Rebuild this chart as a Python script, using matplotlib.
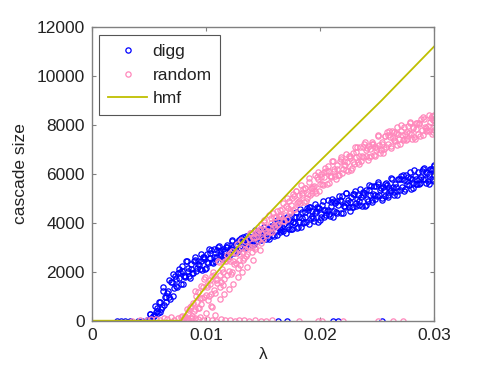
import numpy as np
import matplotlib
matplotlib.use("Agg")
import matplotlib.pyplot as plt

plt.rcParams['font.family'] = ['Liberation Sans', 'DejaVu Sans']

# digg: dense band
digg_x = [
    0.0050, 0.00512, 0.00526, 0.0054, 0.00552, 0.00566, 0.0058, 0.00592, 0.00606,
    0.0062, 0.00632, 0.00646, 0.0066, 0.00672, 0.00686, 0.0070, 0.00712, 0.00726,
    0.0074, 0.00752, 0.00766, 0.0078, 0.00792, 0.00806, 0.0082, 0.00832, 0.00846,
    0.0086, 0.00872, 0.00886, 0.0090, 0.00912, 0.00926, 0.0094, 0.00952, 0.00966,
    0.0098, 0.00992, 0.01006, 0.0102, 0.01032, 0.01046, 0.0106, 0.01072, 0.01086,
    0.0110, 0.01112, 0.01126, 0.0114, 0.01152, 0.01166, 0.0118, 0.01192, 0.01206,
    0.0122, 0.01232, 0.01246, 0.0126, 0.01272, 0.01286, 0.0130, 0.01312, 0.01326,
    0.0134, 0.01352, 0.01366, 0.0138, 0.01392, 0.01406, 0.0142, 0.01432, 0.01446,
    0.0146, 0.01472, 0.01486, 0.0150, 0.01512, 0.01526, 0.0154, 0.01552, 0.01566,
    0.0158, 0.01592, 0.01606, 0.0162, 0.01632, 0.01646, 0.0166, 0.01672, 0.01686,
    0.0170, 0.01712, 0.01726, 0.0174, 0.01752, 0.01766, 0.0178, 0.01792, 0.01806,
    0.0182, 0.01832, 0.01846, 0.0186, 0.01872, 0.01886, 0.0190, 0.01912, 0.01926,
    0.0194, 0.01952, 0.01966, 0.0198, 0.01992, 0.02006, 0.0202, 0.02032, 0.02046,
    0.0206, 0.02072, 0.02086, 0.0210, 0.02112, 0.02126, 0.0214, 0.02152, 0.02166,
    0.0218, 0.02192, 0.02206, 0.0222, 0.02232, 0.02246, 0.0226, 0.02272, 0.02286,
    0.0230, 0.02312, 0.02326, 0.0234, 0.02352, 0.02366, 0.0238, 0.02392, 0.02406,
    0.0242, 0.02432, 0.02446, 0.0246, 0.02472, 0.02486, 0.0250, 0.02512, 0.02526,
    0.0254, 0.02552, 0.02566, 0.0258, 0.02592, 0.02606, 0.0262, 0.02632, 0.02646,
    0.0266, 0.02672, 0.02686, 0.0270, 0.02712, 0.02726, 0.0274, 0.02752, 0.02766,
    0.0278, 0.02792, 0.02806, 0.0282, 0.02832, 0.02846, 0.0286, 0.02872, 0.02886,
    0.0290, 0.02912, 0.02926, 0.0294, 0.02952, 0.02966, 0.0298, 0.0299, 0.0300,
    0.02995, 0.0300,
]
digg_y = [
    20, 260, 130, 240, 590, 410, 320, 770, 460,
    1200, 660, 970, 1125, 1675, 875, 1575, 1025, 1825,
    1410, 1940, 2130, 1500, 2220, 1810, 1840, 2440, 2140,
    1760, 2310, 1930, 2500, 2020, 2300, 2280, 2720, 2080,
    2530, 2110, 2720, 2340, 2750, 2890, 2350, 2910, 2600,
    2590, 3060, 2830, 2520, 2950, 2650, 3090, 2700, 2930,
    2920, 3260, 2770, 3130, 2800, 3280, 2990, 3310, 3420,
    2990, 3460, 3200, 3190, 3600, 3390, 3120, 3510, 3240,
    3650, 3280, 3500, 3480, 3830, 3320, 3690, 3330, 3860,
    3520, 3890, 4030, 3490, 4050, 3740, 3710, 4210, 3960,
    3590, 4070, 3740, 4220, 3760, 4030, 4000, 4430, 3810,
    4250, 3810, 4450, 4020, 4460, 4620, 3970, 4630, 4260,
    4200, 4770, 4480, 4050, 4600, 4220, 4740, 4240, 4530,
    4470, 4930, 4260, 4690, 4230, 4900, 4450, 4910, 5080,
    4400, 5080, 4700, 4630, 5220, 4930, 4490, 5040, 4660,
    5180, 4680, 4970, 4910, 5370, 4700, 5130, 4670, 5340,
    4880, 5340, 5510, 4840, 5520, 5140, 5080, 5650, 5360,
    4930, 5460, 5090, 5610, 5130, 5410, 5350, 5790, 5150,
    5580, 5140, 5780, 5340, 5780, 5940, 5310, 5950, 5590,
    5530, 6080, 5810, 5410, 5920, 5570, 6060, 5590, 5860,
    5800, 6230, 5610, 6020, 5590, 6210, 5790, 6210, 6360,
    5730, 6340,
]
digg2_x = [
    0.00506, 0.00519, 0.00533, 0.00546, 0.00559, 0.00573, 0.00586, 0.00599, 0.00613,
    0.00626, 0.00639, 0.00653, 0.00666, 0.00679, 0.00693, 0.00706, 0.00719, 0.00733,
    0.00746, 0.00759, 0.00773, 0.00786, 0.00799, 0.00813, 0.00826, 0.00839, 0.00853,
    0.00866, 0.00879, 0.00893, 0.00906, 0.00919, 0.00933, 0.00946, 0.00959, 0.00973,
    0.00986, 0.00999, 0.01013, 0.01026, 0.01039, 0.01053, 0.01066, 0.01079, 0.01093,
    0.01106, 0.01119, 0.01133, 0.01146, 0.01159, 0.01173, 0.01186, 0.01199, 0.01213,
    0.01226, 0.01239, 0.01253, 0.01266, 0.01279, 0.01293, 0.01306, 0.01319, 0.01333,
    0.01346, 0.01359, 0.01373, 0.01386, 0.01399, 0.01413, 0.01426, 0.01439, 0.01453,
    0.01466, 0.01479, 0.01493, 0.01506, 0.01519, 0.01533, 0.01546, 0.01559, 0.01573,
    0.01586, 0.01599, 0.01613, 0.01626, 0.01639, 0.01653, 0.01666, 0.01679, 0.01693,
    0.01706, 0.01719, 0.01733, 0.01746, 0.01759, 0.01773, 0.01786, 0.01799, 0.01813,
    0.01826, 0.01839, 0.01853, 0.01866, 0.01879, 0.01893, 0.01906, 0.01919, 0.01933,
    0.01946, 0.01959, 0.01973, 0.01986, 0.01999, 0.02013, 0.02026, 0.02039, 0.02053,
    0.02066, 0.02079, 0.02093, 0.02106, 0.02119, 0.02133, 0.02146, 0.02159, 0.02173,
    0.02186, 0.02199, 0.02213, 0.02226, 0.02239, 0.02253, 0.02266, 0.02279, 0.02293,
    0.02306, 0.02319, 0.02333, 0.02346, 0.02359, 0.02373, 0.02386, 0.02399, 0.02413,
    0.02426, 0.02439, 0.02453, 0.02466, 0.02479, 0.02493, 0.02506, 0.02519, 0.02533,
    0.02546, 0.02559, 0.02573, 0.02586, 0.02599, 0.02613, 0.02626, 0.02639, 0.02653,
    0.02666, 0.02679, 0.02693, 0.02706, 0.02719, 0.02733, 0.02746, 0.02759, 0.02773,
    0.02786, 0.02799, 0.02813, 0.02826, 0.02839, 0.02853, 0.02866, 0.02879, 0.02893,
    0.02906, 0.02919, 0.02933, 0.02946, 0.02959, 0.02973, 0.02986, 0.02998, 0.0300,
]
digg2_y = [
    270, 105, 210, 175, 375, 500, 770, 370, 580,
    1380, 950, 750, 1200, 975, 1600, 1900, 1350, 1700,
    1360, 1750, 1990, 2040, 1520, 1790, 2440, 2030, 1840,
    2120, 1930, 2450, 2600, 2160, 2440, 2100, 2420, 2620,
    2600, 2170, 2390, 2910, 2560, 2390, 2620, 2460, 2900,
    3010, 2640, 2880, 2600, 2860, 3030, 3020, 2650, 2850,
    3290, 3000, 2860, 3050, 2920, 3290, 3390, 3070, 3280,
    3040, 3270, 3410, 3420, 3090, 3260, 3690, 3400, 3270,
    3450, 3310, 3700, 3820, 3460, 3690, 3410, 3670, 3840,
    3840, 3450, 3650, 4120, 3790, 3630, 3830, 3670, 4120,
    4240, 3830, 4090, 3740, 4050, 4240, 4240, 3790, 4020,
    4570, 4190, 4010, 4220, 4040, 4540, 4650, 4200, 4480,
    4090, 4420, 4630, 4600, 4110, 4370, 4910, 4510, 4320,
    4530, 4340, 4860, 4970, 4500, 4800, 4410, 4740, 4950,
    4910, 4420, 4680, 5220, 4820, 4630, 4850, 4660, 5180,
    5290, 4820, 5120, 4720, 5050, 5260, 5220, 4730, 4990,
    5530, 5130, 4940, 5160, 4970, 5490, 5590, 5140, 5420,
    5030, 5360, 5570, 5530, 5070, 5310, 5830, 5450, 5270,
    5480, 5300, 5800, 5900, 5460, 5740, 5370, 5690, 5890,
    5850, 5400, 5630, 6150, 5780, 5600, 5800, 5630, 6110,
    6210, 5780, 6060, 5690, 6000, 6190, 6150, 5720, 5940,
]
# digg points sitting on the axis
digg0_x = [0.0022, 0.0025, 0.0029, 0.0033, 0.0040, 0.0044, 0.0048,
           0.0163, 0.0171, 0.0211, 0.0216, 0.0254]
digg0_y = [0, 0, 0, 0, 0, 0, 30, 0, 0, 0, 0, 0]

# random: dense band
random_x = [
    0.0078, 0.00792, 0.00806, 0.0082, 0.00832, 0.00846, 0.0086, 0.00872, 0.00886,
    0.0090, 0.00912, 0.00926, 0.0094, 0.00952, 0.00966, 0.0098, 0.00992, 0.01006,
    0.0102, 0.01032, 0.01046, 0.0106, 0.01072, 0.01086, 0.0110, 0.01112, 0.01126,
    0.0114, 0.01152, 0.01166, 0.0118, 0.01192, 0.01206, 0.0122, 0.01232, 0.01246,
    0.0126, 0.01272, 0.01286, 0.0130, 0.01312, 0.01326, 0.0134, 0.01352, 0.01366,
    0.0138, 0.01392, 0.01406, 0.0142, 0.01432, 0.01446, 0.0146, 0.01472, 0.01486,
    0.0150, 0.01512, 0.01526, 0.0154, 0.01552, 0.01566, 0.0158, 0.01592, 0.01606,
    0.0162, 0.01632, 0.01646, 0.0166, 0.01672, 0.01686, 0.0170, 0.01712, 0.01726,
    0.0174, 0.01752, 0.01766, 0.0178, 0.01792, 0.01806, 0.0182, 0.01832, 0.01846,
    0.0186, 0.01872, 0.01886, 0.0190, 0.01912, 0.01926, 0.0194, 0.01952, 0.01966,
    0.0198, 0.01992, 0.02006, 0.0202, 0.02032, 0.02046, 0.0206, 0.02072, 0.02086,
    0.0210, 0.02112, 0.02126, 0.0214, 0.02152, 0.02166, 0.0218, 0.02192, 0.02206,
    0.0222, 0.02232, 0.02246, 0.0226, 0.02272, 0.02286, 0.0230, 0.02312, 0.02326,
    0.0234, 0.02352, 0.02366, 0.0238, 0.02392, 0.02406, 0.0242, 0.02432, 0.02446,
    0.0246, 0.02472, 0.02486, 0.0250, 0.02512, 0.02526, 0.0254, 0.02552, 0.02566,
    0.0258, 0.02592, 0.02606, 0.0262, 0.02632, 0.02646, 0.0266, 0.02672, 0.02686,
    0.0270, 0.02712, 0.02726, 0.0274, 0.02752, 0.02766, 0.0278, 0.02792, 0.02806,
    0.0282, 0.02832, 0.02846, 0.0286, 0.02872, 0.02886, 0.0290, 0.02912, 0.02926,
    0.0294, 0.02952, 0.02966, 0.0298, 0.0299, 0.0300, 0.02995, 0.0300,
    # stragglers below the band
    0.0090, 0.0095, 0.0100, 0.0104, 0.0105, 0.0108, 0.0112, 0.0116, 0.0120,
    0.0124, 0.0128, 0.0132, 0.0136, 0.0141, 0.0147,
]
random_y = [
    155, 35, 105, 210, 480, 80, 540, 120, 730,
    460, 990, 1180, 520, 1400, 910, 960, 1800, 1380,
    860, 1670, 1110, 1990, 1250, 1680, 1700, 2380, 1390,
    2120, 1460, 2420, 1850, 2510, 2750, 1910, 2840, 2310,
    2350, 3130, 2740, 2290, 2990, 2500, 3270, 2660, 3020,
    3060, 3600, 2810, 3430, 2910, 3670, 3250, 3760, 3940,
    3320, 4040, 3630, 3680, 4310, 3990, 3630, 4220, 3810,
    4490, 3950, 4260, 4310, 4800, 4080, 4670, 4170, 4890,
    4500, 5000, 5180, 4560, 5280, 4870, 4900, 5530, 5210,
    4830, 5420, 5010, 5670, 5130, 5440, 5450, 5940, 5220,
    5780, 5280, 6000, 5570, 6070, 6250, 5590, 6310, 5900,
    5900, 6530, 6210, 5790, 6380, 5970, 6590, 6050, 6360,
    6350, 6830, 6130, 6640, 6150, 6860, 6420, 6900, 7080,
    6410, 7110, 6710, 6680, 7300, 6990, 6560, 7130, 6740,
    7310, 6790, 7090, 7060, 7540, 6850, 7320, 6850, 7540,
    7090, 7570, 7740, 7070, 7760, 7380, 7330, 7930, 7630,
    7200, 7750, 7370, 7900, 7400, 7690, 7650, 8110, 7440,
    7870, 7410, 8080, 7620, 8080, 8250, 7570, 8250, 7870,
    7800, 8390, 8100, 7640, 8190, 7810, 7700, 8420,
    100, 150, 300, 600, 570, 250, 900, 1100, 1300,
    1500, 1800, 2000, 2200, 2500, 2890,
]
random2_x = [
    0.00786, 0.00799, 0.00813, 0.00826, 0.00839, 0.00853, 0.00866, 0.00879, 0.00893,
    0.00906, 0.00919, 0.00933, 0.00946, 0.00959, 0.00973, 0.00986, 0.00999, 0.01013,
    0.01026, 0.01039, 0.01053, 0.01066, 0.01079, 0.01093, 0.01106, 0.01119, 0.01133,
    0.01146, 0.01159, 0.01173, 0.01186, 0.01199, 0.01213, 0.01226, 0.01239, 0.01253,
    0.01266, 0.01279, 0.01293, 0.01306, 0.01319, 0.01333, 0.01346, 0.01359, 0.01373,
    0.01386, 0.01399, 0.01413, 0.01426, 0.01439, 0.01453, 0.01466, 0.01479, 0.01493,
    0.01506, 0.01519, 0.01533, 0.01546, 0.01559, 0.01573, 0.01586, 0.01599, 0.01613,
    0.01626, 0.01639, 0.01653, 0.01666, 0.01679, 0.01693, 0.01706, 0.01719, 0.01733,
    0.01746, 0.01759, 0.01773, 0.01786, 0.01799, 0.01813, 0.01826, 0.01839, 0.01853,
    0.01866, 0.01879, 0.01893, 0.01906, 0.01919, 0.01933, 0.01946, 0.01959, 0.01973,
    0.01986, 0.01999, 0.02013, 0.02026, 0.02039, 0.02053, 0.02066, 0.02079, 0.02093,
    0.02106, 0.02119, 0.02133, 0.02146, 0.02159, 0.02173, 0.02186, 0.02199, 0.02213,
    0.02226, 0.02239, 0.02253, 0.02266, 0.02279, 0.02293, 0.02306, 0.02319, 0.02333,
    0.02346, 0.02359, 0.02373, 0.02386, 0.02399, 0.02413, 0.02426, 0.02439, 0.02453,
    0.02466, 0.02479, 0.02493, 0.02506, 0.02519, 0.02533, 0.02546, 0.02559, 0.02573,
    0.02586, 0.02599, 0.02613, 0.02626, 0.02639, 0.02653, 0.02666, 0.02679, 0.02693,
    0.02706, 0.02719, 0.02733, 0.02746, 0.02759, 0.02773, 0.02786, 0.02799, 0.02813,
    0.02826, 0.02839, 0.02853, 0.02866, 0.02879, 0.02893, 0.02906, 0.02919, 0.02933,
    0.02946, 0.02959, 0.02973, 0.02986, 0.02998, 0.0300,
]
random2_y = [
    180, 70, 140, 95, 295, 420, 610, 180, 400,
    1210, 750, 530, 935, 690, 1375, 1710, 1050, 1470,
    1020, 1510, 1820, 1870, 1150, 1530, 2440, 1850, 1570,
    1970, 1700, 2450, 2690, 2030, 2450, 1990, 2460, 2750,
    2800, 2150, 2490, 3310, 2800, 2560, 2940, 2710, 3350,
    3570, 3030, 3380, 3030, 3410, 3640, 3690, 3160, 3440,
    4130, 3700, 3500, 3840, 3630, 4200, 4420, 3930, 4240,
    3930, 4290, 4510, 4580, 4060, 4330, 5030, 4600, 4400,
    4730, 4520, 5090, 5300, 4810, 5120, 4790, 5150, 5370,
    5420, 4900, 5170, 5850, 5420, 5220, 5520, 5310, 5880,
    6070, 5580, 5890, 5530, 5890, 6110, 6130, 5610, 5880,
    6530, 6100, 5900, 6180, 5970, 6540, 6700, 6210, 6520,
    6150, 6500, 6720, 6720, 6220, 6480, 7100, 6680, 6480,
    6740, 6540, 7090, 7230, 6750, 7060, 6670, 7020, 7240,
    7220, 6730, 6980, 7580, 7170, 6980, 7220, 7020, 7560,
    7690, 7220, 7520, 7140, 7480, 7700, 7670, 7180, 7430,
    8000, 7600, 7410, 7630, 7440, 7960, 8090, 7620, 7920,
    7520, 7850, 8060, 8020, 7530, 7790, 8330, 7930, 7740,
    7950, 7760, 8280, 8380, 7910, 8210,
]
# random points sitting on the axis
random0_x = [0.0035, 0.0042, 0.0048, 0.0052, 0.0056, 0.0060, 0.0063, 0.0066,
             0.0069, 0.0072, 0.0075, 0.0080, 0.0084, 0.0088, 0.0093, 0.0097,
             0.0101, 0.0105, 0.0109, 0.0113, 0.0117, 0.0121, 0.0125, 0.0129,
             0.0133, 0.0138, 0.0143, 0.0148, 0.0153, 0.0158, 0.0182, 0.0198,
             0.0202, 0.0220, 0.0251, 0.0264, 0.0273]
random0_y = [0, 20, 40, 60, 90, 30, 120, 70, 150, 40, 100, 60, 20, 130, 50,
             10, 80, 30, 0, 60, 20, 40, 0, 30, 10, 0, 20, 0, 0, 10, 0, 0,
             0, 0, 0, 0, 0]

# hmf curve
hmf_x = [0, 0.0078, 0.0085, 0.0095, 0.011, 0.013, 0.0165, 0.0183, 0.0254, 0.030]
hmf_y = [0, 0, 500, 1100, 2000, 3150, 4860, 5750, 9000, 11200]

x_ticks = [0, 0.01, 0.02, 0.03]
x_labels = ['0', '0.01', '0.02', '0.03']
y_ticks = [0, 2000, 4000, 6000, 8000, 10000, 12000]

blue = '#0000ff'
pink = '#ff88bc'
olive = '#bfbf00'
grey = '#808080'

fig = plt.figure(figsize=(4.8, 3.7), dpi=100)
ax = fig.add_axes([0.1917, 0.1332, 0.7125, 0.7938])

mk = dict(marker='o', linestyle='none', markersize=3.8, markeredgewidth=0.9,
          markerfacecolor='none')
ax.plot(digg_x + digg2_x + digg0_x, digg_y + digg2_y + digg0_y,
        color=blue, label='digg', **mk)
ax.plot(random_x + random2_x + random0_x, random_y + random2_y + random0_y,
        color=pink, label='random', **mk)
ax.plot(hmf_x, hmf_y, color=olive, linewidth=1.3, label='hmf')

ax.set_xlim(0, 0.03)
ax.set_ylim(0, 12000)
ax.set_xticks(x_ticks)
ax.set_xticklabels(x_labels)
ax.set_yticks(y_ticks)
ax.tick_params(direction='in', length=3, width=0.8, color=grey, top=True, right=True,
               labelsize=12.5, labelcolor='#222222', pad=5)
for s in ax.spines.values():
    s.set_color(grey)
    s.set_linewidth(1.0)

ax.set_xlabel('λ', fontsize=12.5, color='#222222', labelpad=3)
ax.set_ylabel('cascade size', fontsize=12.5, color='#222222', labelpad=6)

leg = ax.legend(loc='upper left', bbox_to_anchor=(0.02, 0.973), borderaxespad=0,
                fontsize=12.5, fancybox=False, framealpha=1, handlelength=2.3,
                handletextpad=0.3, labelspacing=0.5, borderpad=0.5)
leg.get_frame().set_edgecolor('#555555')
leg.get_frame().set_linewidth(0.8)
for t in leg.get_texts():
    t.set_color('#222222')

fig.savefig('out.png', dpi=100)
